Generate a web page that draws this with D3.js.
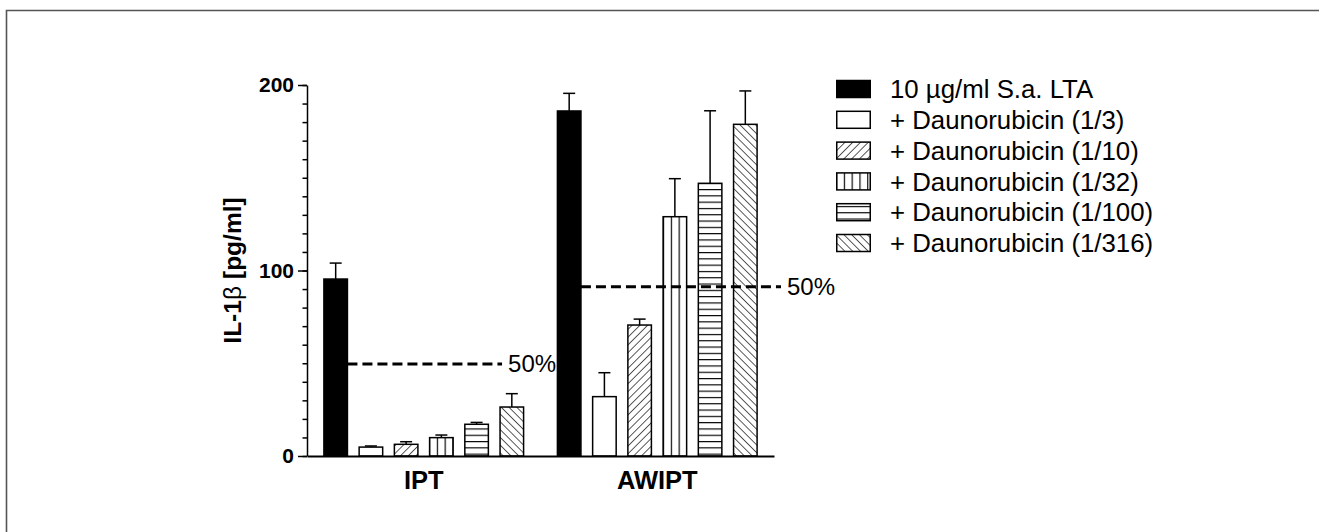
<!DOCTYPE html>
<html>
<head>
<meta charset="utf-8">
<script src="https://cdn.jsdelivr.net/npm/d3@7"></script>
<style>
  body { margin: 0; background: #fff; }
  text { font-family: "Liberation Sans", Arial, sans-serif; }
</style>
</head>
<body>
<div id="chart"></div>
<script>
'use strict';

// ---- data ----
var groups = ['IPT', 'AWIPT'];
var series = [
  '10 \u00b5g/ml S.a. LTA',
  '+ Daunorubicin (1/3)',
  '+ Daunorubicin (1/10)',
  '+ Daunorubicin (1/32)',
  '+ Daunorubicin (1/100)',
  '+ Daunorubicin (1/316)'
];
var iptMeans   = [95.4, 4.8, 6.3, 9.9, 17.1, 26.4];
var iptErr     = [8.6, 0.6, 1.4, 1.4, 1.0, 7.2];
var awiptMeans = [186, 32, 70.6, 129, 147, 178.8];
var awiptErr   = [9.5, 12.9, 3.2, 20.5, 39.1, 18];
var fiftyPct   = [49.6, 91.3];   // dashed "50%" reference lines
var yTicks     = [0, 100, 200];

var fills = ['black', 'white', 'url(#hatchFwd)', 'url(#vlines)', 'url(#hlines)', 'url(#hatchBack)'];

var W = 1319, H = 532;

var svg = d3.select('#chart').append('svg')
  .attr('width', W)
  .attr('height', H);

// frame (only top + left visible in the picture)
svg.append('path')
  .attr('d', 'M6.5,' + H + 'V10.5H' + W)
  .attr('fill', 'none')
  .attr('stroke', '#555')
  .attr('stroke-width', 1.6);

// patterns
var defs = svg.append('defs');
function linePattern(id, w, h, rot, x1, y1, x2, y2) {
  var p = defs.append('pattern')
    .attr('id', id)
    .attr('patternUnits', 'userSpaceOnUse')
    .attr('width', w)
    .attr('height', h);
  if (rot) p.attr('patternTransform', 'rotate(' + rot + ')');
  p.append('rect').attr('width', w).attr('height', h).attr('fill', 'white');
  p.append('line')
    .attr('x1', x1).attr('y1', y1).attr('x2', x2).attr('y2', y2)
    .attr('stroke', 'black')
    .attr('stroke-width', 1.3);
}
linePattern('hatchFwd', 5.5, 5.5, 45, 0, 0, 0, 5.5);
linePattern('hatchBack', 5.5, 5.5, -45, 0, 0, 0, 5.5);
linePattern('vlines', 7.8, 10, 0, 0.5, 0, 0.5, 10);
linePattern('hlines', 10, 6.3, 0, 0, 0.5, 10, 0.5);

// scales
var y = d3.scaleLinear().domain([0, 200]).range([456, 85]);
var x0 = d3.scaleBand().domain(groups).range([307, 774]).padding(0);
var x1 = d3.scaleBand().domain(d3.range(series.length))
  .range([0, x0.bandwidth()])
  .paddingInner(0.332)
  .paddingOuter(0.48);

var rows = [];
groups.forEach(function(g, gi) {
  var means = gi === 0 ? iptMeans : awiptMeans;
  var errs = gi === 0 ? iptErr : awiptErr;
  means.forEach(function(m, si) {
    rows.push({group: g, s: si, mean: m, err: errs[si]});
  });
});

// bars
svg.append('g').selectAll('rect')
  .data(rows)
  .join('rect')
  .attr('x', function(d) { return x0(d.group) + x1(d.s); })
  .attr('y', function(d) { return y(d.mean); })
  .attr('width', x1.bandwidth())
  .attr('height', function(d) { return y(0) - y(d.mean); })
  .attr('fill', function(d) { return fills[d.s]; })
  .attr('stroke', 'black')
  .attr('stroke-width', 1.5);

// error bars (upper only)
var eb = svg.append('g')
  .attr('stroke', 'black')
  .attr('stroke-width', 1.5);
eb.selectAll('line.v')
  .data(rows)
  .join('line')
  .attr('class', 'v')
  .attr('x1', function(d) { return x0(d.group) + x1(d.s) + x1.bandwidth() / 2; })
  .attr('x2', function(d) { return x0(d.group) + x1(d.s) + x1.bandwidth() / 2; })
  .attr('y1', function(d) { return y(d.mean); })
  .attr('y2', function(d) { return y(d.mean + d.err); });
eb.selectAll('line.cap')
  .data(rows)
  .join('line')
  .attr('class', 'cap')
  .attr('x1', function(d) { return x0(d.group) + x1(d.s) + x1.bandwidth() / 2 - 6; })
  .attr('x2', function(d) { return x0(d.group) + x1(d.s) + x1.bandwidth() / 2 + 6; })
  .attr('y1', function(d) { return y(d.mean + d.err); })
  .attr('y2', function(d) { return y(d.mean + d.err); });

// 50% dashed lines + labels
var lineEnds = [x0('IPT') + x1(5) + 2, x0.range()[1] + 7];
groups.forEach(function(g, gi) {
  var xs = x0(g) + x1(0) + x1.bandwidth();
  svg.append('line')
    .attr('x1', xs)
    .attr('x2', lineEnds[gi])
    .attr('y1', y(fiftyPct[gi]))
    .attr('y2', y(fiftyPct[gi]))
    .attr('stroke', 'black')
    .attr('stroke-width', 3)
    .attr('stroke-dasharray', '10,5');
  svg.append('text')
    .attr('x', lineEnds[gi] + 6)
    .attr('y', y(fiftyPct[gi]))
    .attr('dy', '0.35em')
    .style('font-size', '24px')
    .text('50%');
});

// y axis: minor + major ticks
svg.append('g')
  .attr('transform', 'translate(307,0)')
  .call(d3.axisLeft(y).tickValues(d3.range(0, 201, 10)).tickSize(4.5).tickSizeOuter(0).tickFormat(''))
  .call(function(g) { g.selectAll('line,path').attr('stroke-width', 1.5); });

svg.append('g')
  .attr('transform', 'translate(307,0)')
  .call(d3.axisLeft(y).tickValues(yTicks).tickSize(9).tickSizeOuter(0).tickPadding(4).tickFormat(d3.format('d')))
  .call(function(g) {
    g.select('.domain').remove();
    g.selectAll('line').attr('stroke-width', 1.5);
    g.selectAll('text')
      .style('font-size', '21px')
      .style('font-weight', 'bold')
      .style('font-family', '"Liberation Sans", Arial, sans-serif')
      .attr('fill', 'black');
  });

// x axis
svg.append('g')
  .attr('transform', 'translate(0,456)')
  .call(d3.axisBottom(x0).tickSize(0).tickSizeOuter(0).tickPadding(15))
  .call(function(g) {
    g.select('.domain').attr('stroke-width', 2);
    g.selectAll('text')
      .style('font-size', '25.5px')
      .style('font-weight', 'bold')
      .style('font-family', '"Liberation Sans", Arial, sans-serif')
      .attr('fill', 'black');
  });

// y label
var yl = svg.append('text')
  .attr('transform', 'translate(241,270.5) rotate(-90)')
  .attr('text-anchor', 'middle')
  .style('font-size', '24.5px')
  .style('font-weight', 'bold');
yl.append('tspan').text('IL-1');
yl.append('tspan').style('font-weight', 'normal').text('\u03b2');
yl.append('tspan').attr('dx', 7).text('[pg/ml]');

// legend
var lg = svg.append('g').attr('transform', 'translate(836,89)');
var item = lg.selectAll('g')
  .data(series)
  .join('g')
  .attr('transform', function(d, i) { return 'translate(0,' + (i * 30.8) + ')'; });
item.append('rect')
  .attr('x', 0.75)
  .attr('y', -8.5)
  .attr('width', 33.5)
  .attr('height', 17)
  .attr('fill', function(d, i) { return fills[i]; })
  .attr('stroke', 'black')
  .attr('stroke-width', 1.5);
item.append('text')
  .attr('x', 54)
  .attr('dy', '0.36em')
  .style('font-size', '25.8px')
  .text(function(d) { return d; });
</script>
</body>
</html>
